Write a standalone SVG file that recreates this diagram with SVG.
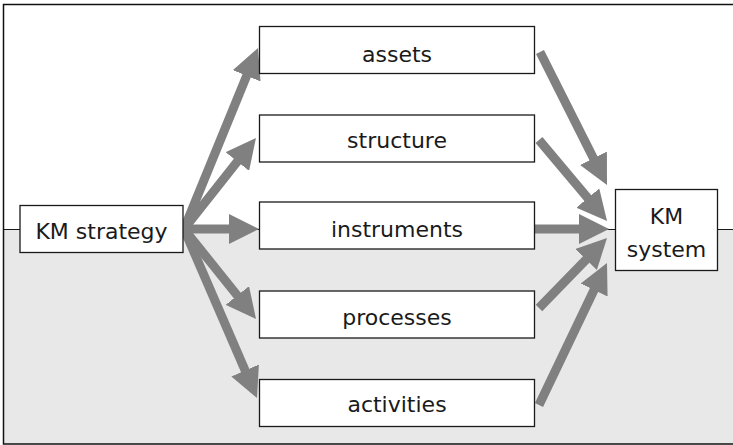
<svg xmlns="http://www.w3.org/2000/svg" width="733" height="445" viewBox="0 0 733 445">
<style>
.box{fill:#fff;stroke:#1a1a1a;stroke-width:1.3}
.lbl{font-family:"DejaVu Sans",sans-serif;font-size:22px;fill:#1a1a1a;text-anchor:middle}
.arr{stroke:#808080;stroke-width:9;fill:none;marker-end:url(#ah)}
</style>
<defs>
<marker id="ah" markerUnits="userSpaceOnUse" viewBox="0 0 30 30" markerWidth="30" markerHeight="30" refX="8" refY="15" orient="auto">
<path d="M0,0 L30,15 L0,30 z" fill="#808080"/>
</marker>
</defs>
<g id="background">
<rect x="3.5" y="229.5" width="740" height="214.5" fill="#e8e8e8"/>
<line x1="3.5" y1="229.5" x2="733" y2="229.5" stroke="#1a1a1a" stroke-width="1"/>
<rect x="3.5" y="4.5" width="740" height="439.5" fill="none" stroke="#111" stroke-width="1.5"/>
</g>
<g id="connectors">
<line class="arr" x1="184" y1="229" x2="249.7" y2="68.4"/>
<line class="arr" x1="184" y1="229" x2="242.3" y2="155.3"/>
<line class="arr" x1="184" y1="229" x2="237" y2="229"/>
<line class="arr" x1="184" y1="229" x2="242.3" y2="301.8"/>
<line class="arr" x1="184" y1="229" x2="248.3" y2="377.8"/>
<line class="arr" x1="540" y1="52" x2="597.1" y2="165.4"/>
<line class="arr" x1="539" y1="140" x2="592.9" y2="204.2"/>
<line class="arr" x1="535" y1="229" x2="587" y2="229"/>
<line class="arr" x1="539" y1="308" x2="591.7" y2="253.8"/>
<line class="arr" x1="539" y1="405" x2="597.5" y2="282.8"/>
</g>
<g id="km-strategy">
<rect class="box" x="20" y="205.5" width="163" height="47"/>
<text class="lbl" x="101.5" y="239.3">KM strategy</text>
</g>
<g id="assets">
<rect class="box" x="259.5" y="26.5" width="275" height="47"/>
<text class="lbl" x="397" y="61.5">assets</text>
</g>
<g id="structure">
<rect class="box" x="259.5" y="115" width="275" height="47"/>
<text class="lbl" x="397" y="148.3">structure</text>
</g>
<g id="instruments">
<rect class="box" x="259.5" y="202" width="275" height="47"/>
<text class="lbl" x="397" y="236.5">instruments</text>
</g>
<g id="processes">
<rect class="box" x="259.5" y="291" width="275" height="47"/>
<text class="lbl" x="397" y="325">processes</text>
</g>
<g id="activities">
<rect class="box" x="259.5" y="379.5" width="275" height="47"/>
<text class="lbl" x="397" y="411.7">activities</text>
</g>
<g id="km-system">
<rect class="box" x="615.5" y="189.5" width="102" height="81"/>
<text class="lbl" x="666.5" y="224">KM</text>
<text class="lbl" x="666.5" y="257.3">system</text>
</g>
</svg>
